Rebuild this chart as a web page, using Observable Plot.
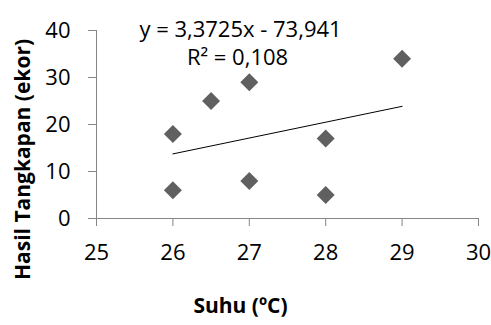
<!DOCTYPE html>
<html>
<head>
<meta charset="utf-8">
<script src="https://cdn.jsdelivr.net/npm/d3@7"></script>
<script src="https://cdn.jsdelivr.net/npm/@observablehq/plot@0.6"></script>
<style>
  html, body { margin: 0; padding: 0; background: #fff; }
</style>
</head>
<body>
<div id="chart"></div>
<script>
const suhu = [26, 26, 26.5, 27, 27, 28, 28, 29];
const hasil = [18, 6, 25, 29, 8, 17, 5, 34];
const xTicks = [25, 26, 27, 28, 29, 30];
const yTicks = [0, 10, 20, 30, 40];
const equationText = "y = 3,3725x - 73,941";
const r2Text = "R² = 0,108";
const xLabel = "Suhu (ºC)";
const yLabel = "Hasil Tangkapan (ekor)";

const data = suhu.map((x, i) => ({x, y: hasil[i]}));
const axisGray = "#868686";

const chart = Plot.plot({
  width: 491,
  height: 325,
  marginLeft: 96,
  marginRight: 13,
  marginTop: 30,
  marginBottom: 107,
  style: {fontFamily: "'Open Sans', sans-serif", background: "white", color: "black"},
  x: {domain: [25, 30]},
  y: {domain: [0, 40]},
  marks: [
    Plot.ruleX([25], {stroke: axisGray, strokeWidth: 1}),
    Plot.ruleY([0], {stroke: axisGray, strokeWidth: 1}),
    Plot.axisX({ticks: xTicks, tickSize: 8, stroke: axisGray, tickFormat: () => "", label: null}),
    Plot.axisX({ticks: xTicks, tickSize: 0, tickPadding: 26, fontSize: 22, fill: "black", tickFormat: d => String(d), label: null}),
    Plot.axisY({ticks: yTicks, tickSize: 8, stroke: axisGray, tickFormat: () => "", label: null}),
    Plot.axisY({ticks: yTicks, tickSize: 0, tickPadding: 26, fontSize: 22, fill: "black", tickFormat: d => String(d), label: null}),
    Plot.linearRegressionY(data, {x: "x", y: "y", ci: 0, stroke: "black", strokeWidth: 1}),
    Plot.dot(data, {x: "x", y: "y", symbol: "diamond2", r: 8.1, fill: "#606060"}),
    Plot.text([equationText], {frameAnchor: "top-left", dx: 144, dy: -1, fontSize: 22, textAnchor: "middle", lineAnchor: "middle", fill: "black"}),
    Plot.text([r2Text], {frameAnchor: "top-left", dx: 141, dy: 27, fontSize: 22, textAnchor: "middle", lineAnchor: "middle", fill: "black"}),
    Plot.text([xLabel], {frameAnchor: "bottom", dx: -47, dy: 88, fontSize: 21, fontWeight: "bold", textAnchor: "middle", lineAnchor: "middle", fill: "black"}),
    Plot.text([yLabel], {frameAnchor: "left", dx: -73, dy: 35, rotate: -90, fontSize: 21, fontWeight: "bold", textAnchor: "middle", lineAnchor: "middle", fill: "black"})
  ]
});
document.getElementById("chart").appendChild(chart);
</script>
</body>
</html>
